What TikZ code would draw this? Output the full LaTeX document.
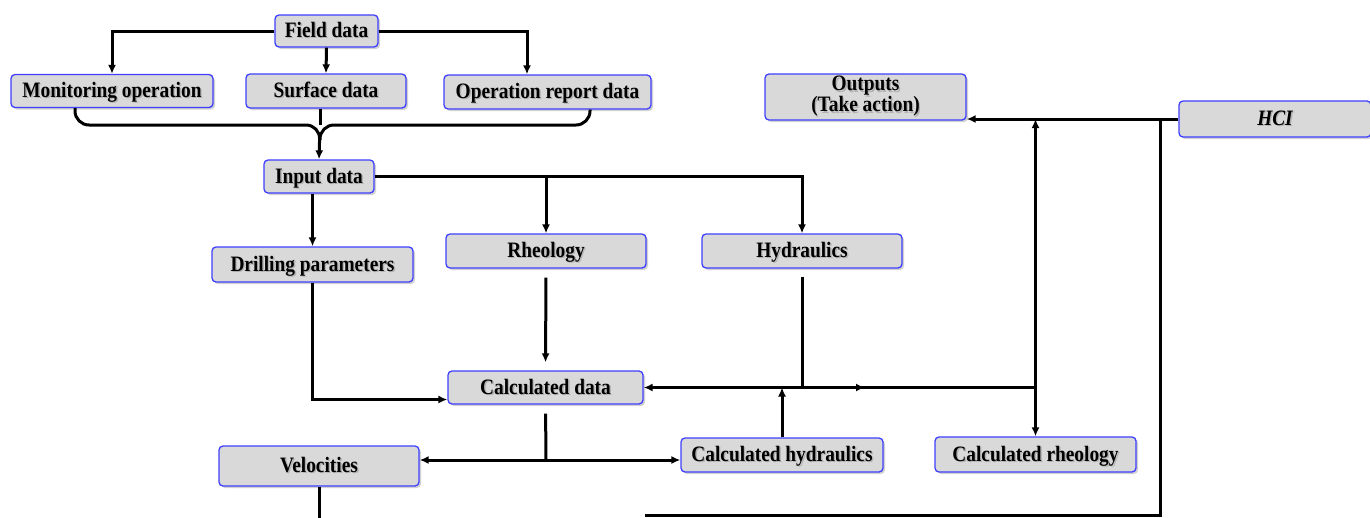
\documentclass[tikz,border=0pt]{standalone}
\usepackage{fontspec}
\setmainfont{Liberation Serif}[FakeStretch=0.88]
\usetikzlibrary{arrows.meta,shadows}

\definecolor{boxfill}{HTML}{D9D9D9}
\definecolor{boxline}{HTML}{3F3FFF}

% bold label with a soft grey shadow behind it
\newcommand{\shlabel}[1]{\rlap{\kern1.4pt\raisebox{-1.4pt}{\color{black!30}#1}}#1}

\tikzset{
  boxbase/.style={draw=boxline, fill=boxfill, line width=1.3pt, rounded corners=4pt,
    inner sep=0pt, align=center,
    font=\fontsize{22}{22}\selectfont\bfseries,
    drop shadow={shadow xshift=2pt, shadow yshift=-2pt, opacity=0.3, fill=black!60}},
  box/.style={boxbase, text height=14pt, text depth=1pt},
  link/.style={line width=3pt, line join=miter},
  arr/.style={link, -{Latex[length=9pt,width=8pt]}},
}

\begin{document}
\begin{tikzpicture}[x=1pt, y=-1pt]
\useasboundingbox (0,0) rectangle (1370,517);

% boxes
\node[box, minimum width=103pt, minimum height=32pt] (field) at (326.5,31) {\shlabel{Field data}};
\node[box, minimum width=202pt, minimum height=33pt] (mon) at (112,91) {\shlabel{Monitoring operation}};
\node[box, minimum width=160pt, minimum height=34pt] (surf) at (326,91) {\shlabel{Surface data}};
\node[box, minimum width=207pt, minimum height=34pt] (opr) at (547.5,92) {\shlabel{Operation report data}};
\node[box, minimum width=110pt, minimum height=33pt] (input) at (319,176.5) {\shlabel{Input data}};
\node[box, minimum width=201pt, minimum height=35pt] (drill) at (312.5,264.5) {\shlabel{Drilling parameters}};
\node[box, minimum width=200pt, minimum height=34pt] (rheo) at (546,251) {\shlabel{Rheology}};
\node[box, minimum width=200pt, minimum height=34pt] (hyd) at (802,251) {\shlabel{Hydraulics}};
\node[box, minimum width=195pt, minimum height=33pt] (calc) at (545.5,387.5) {\shlabel{Calculated data}};
\node[box, minimum width=200pt, minimum height=40pt] (vel) at (319,466) {\shlabel{Velocities}};
\node[box, minimum width=202pt, minimum height=34pt] (ch) at (782,455) {\shlabel{Calculated hydraulics}};
\node[box, minimum width=201pt, minimum height=35pt] (crh) at (1035.5,454.5) {\shlabel{Calculated rheology}};
\node[boxbase, minimum width=201pt, minimum height=46pt] (out) at (865.5,97)
  {\shlabel{Outputs}\\[-1pt]\shlabel{(Take action)}};
\node[box, minimum width=192pt, minimum height=36pt] (hci) at (1275,119)
  {\itshape\shlabel{HCI}};

% field data fan-out
\draw[arr] (field.west) -| (mon.north);
\draw[arr] (field.south) -- (surf.north);
\draw[arr] (field.east) -| ([xshift=-20.5pt]opr.north);

% brace gathering the three sources
\coordinate (brc) at (320,125);
\draw[arr, rounded corners=14pt] ([xshift=-37pt]mon.south) |- (brc) -- (input.north);
\draw[link, rounded corners=14pt] ([xshift=42.5pt]opr.south) |- (brc) -- ++(0,15);
\draw[link] (surf.south -| brc) -- (brc);

% input data branches
\draw[arr] (input.east) -| (hyd.north);
\draw[arr] (input.east -| rheo.north) -- (rheo.north);
\draw[arr] (drill.north |- input.south) -- (drill.north);

% into calculated data
\draw[arr] (drill.south) |- ([yshift=-12pt]calc.west);
\draw[arr, shorten <=9pt, shorten >=8pt] (rheo.south) -- (calc.north);
\draw[link, shorten <=8pt] (hyd.south) -- (hyd.south |- calc.east) coordinate (hj);
\draw[arr] (hj) -- (calc.east);
\draw[link] (hj) -- (crh.north |- hj);
\draw[arr] (hj) -- ++(63,0);
\draw[arr] (ch.north) -- (ch.north |- hj);

% rheology column and outputs
\draw[arr] (crh.north |- hj) -- (crh.north |- hci.west);
\draw[arr] (crh.north |- hj) -- (crh.north);
\draw[arr] (hci.west) -- (hci.west -| out.east);

% calculated data split
\coordinate (cj) at (546,460);
\draw[link, shorten <=9pt] (calc.south) -- (cj);
\draw[arr] (cj) -- (cj -| vel.east);
\draw[arr] (cj) -- (cj -| ch.west);

% return loop along the bottom
\draw[link] (vel.south) -- ++(0,32);
\coordinate (b1) at (645,515);
\coordinate (b2) at (1160,515);
\draw[link] (b1) -- (b2) -- (b2 |- hci.west);
\end{tikzpicture}
\end{document}
